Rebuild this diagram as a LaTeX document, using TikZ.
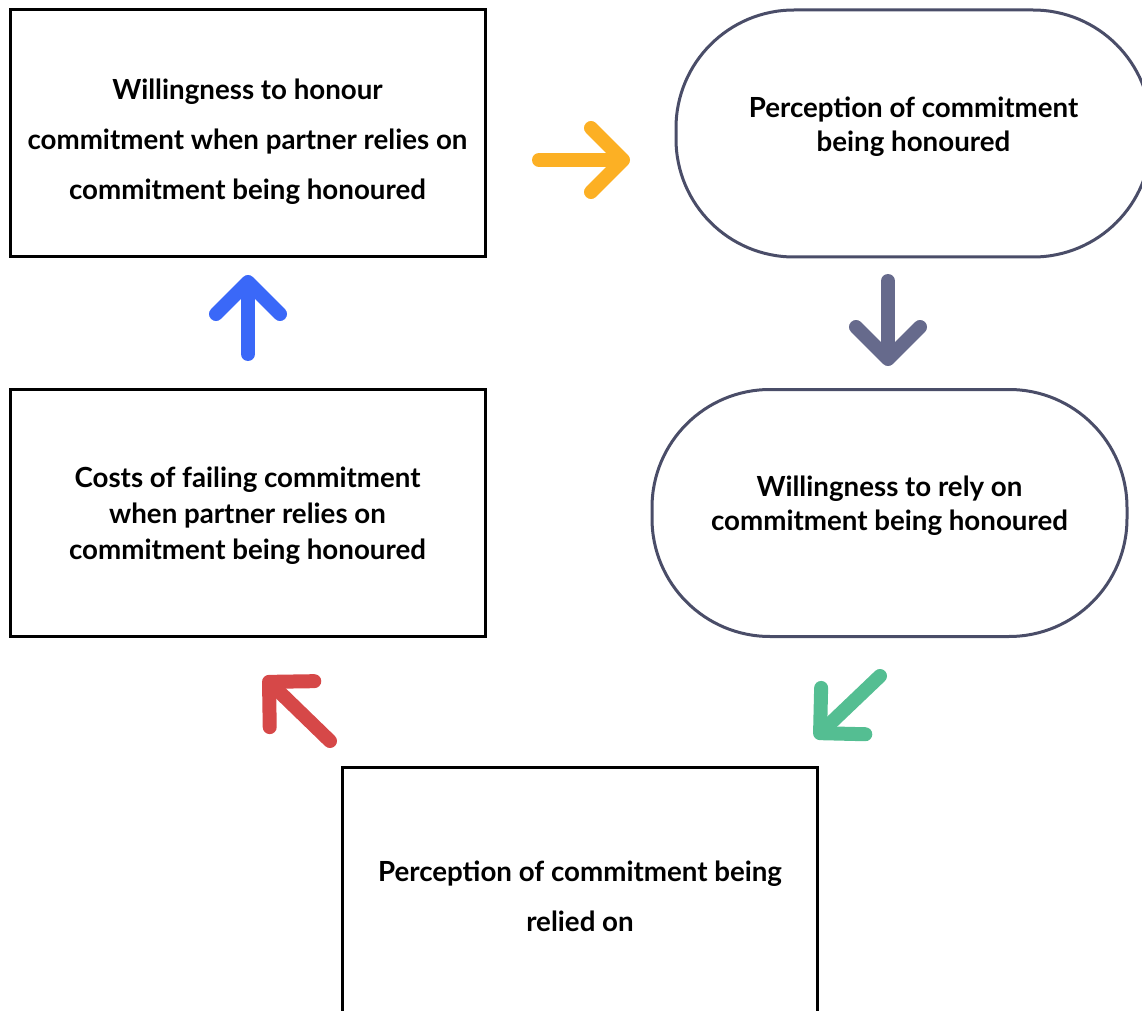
\documentclass[tikz,border=0pt]{standalone}
\usepackage{fontspec}
\setmainfont{Lato}
\usetikzlibrary{arrows.meta,positioning}

\definecolor{pillgrey}{RGB}{74,77,104}
\definecolor{arrorange}{RGB}{252,176,36}
\definecolor{arrblue}{RGB}{58,104,248}
\definecolor{arrgrey}{RGB}{102,106,140}
\definecolor{arrred}{RGB}{214,72,72}
\definecolor{arrgreen}{RGB}{84,190,146}

\begin{document}
\begin{tikzpicture}[x=0.5pt, y=-0.5pt, thick]

		\tikzstyle{sqbox}=[rectangle, draw=black, line width=1.5pt, minimum width=237.5pt, minimum height=123.5pt, inner sep=0pt]
		\tikzstyle{pill}=[rectangle, rounded corners=59pt, draw=pillgrey, line width=1.5pt, minimum width=237.5pt, minimum height=123.5pt, inner sep=0pt]
		\tikzstyle{txt}=[align=center, inner sep=0pt, font=\bfseries\fontsize{13.85}{25}\selectfont]
		\tikzstyle{flow}=[line width=7pt, line cap=round, -{Straight Barb[round, length=16pt, width=32pt]}]

		\useasboundingbox (0,0) rectangle (1142,1011);

		\node[sqbox, label={[txt, name=willhontxt, yshift=-4pt]center:{Willingness to honour\\commitment when partner relies on\\commitment being honoured}}] (willhon) at (247.5,133.5) {};
		\node[pill, label={[txt, font=\bfseries\fontsize{13.85}{17}\selectfont, name=perchontxt, yshift=3.5pt]center:{Perception of commitment\\being honoured}}] (perchon) at (913.5,133.5) {};
		\node[pill, label={[txt, font=\bfseries\fontsize{13.85}{17}\selectfont, name=willrelytxt, yshift=3.5pt]center:{Willingness to rely on\\commitment being honoured}}] (willrely) at (889.5,513) {};
		\node[sqbox, label={[txt, font=\bfseries\fontsize{13.85}{18}\selectfont, name=coststxt, yshift=-1.5pt]center:{Costs of failing commitment\\when partner relies on\\commitment being honoured}}] (costs) at (247.5,512.5) {};
		\node[sqbox, label={[txt, name=percreltxt, yshift=-3pt]center:{Perception of commitment being\\relied on}}] (percrel) at (580,890.5) {};

		% Arrow ends
		\coordinate (o1) at (539,160);
		\coordinate (o2) at (630,160);
		\coordinate (g1) at (888,281);
		\coordinate (g2) at (888,366);
		\coordinate (n1) at (880,676);
		\coordinate (n2) at (815,738);
		\coordinate (r1) at (330,741);
		\coordinate (r2) at (264,677);
		\coordinate (b1) at (248,354);
		\coordinate (b2) at (248,275);

		% Cycle links
		\draw[flow, arrorange] (o1) -- (o2);
		\draw[flow, arrgrey] (g1) -- (g2);
		\draw[flow, arrgreen] (n1) -- (n2);
		\draw[flow, arrred] (r1) -- (r2);
		\draw[flow, arrblue] (b1) -- (b2);

\end{tikzpicture}
\end{document}
